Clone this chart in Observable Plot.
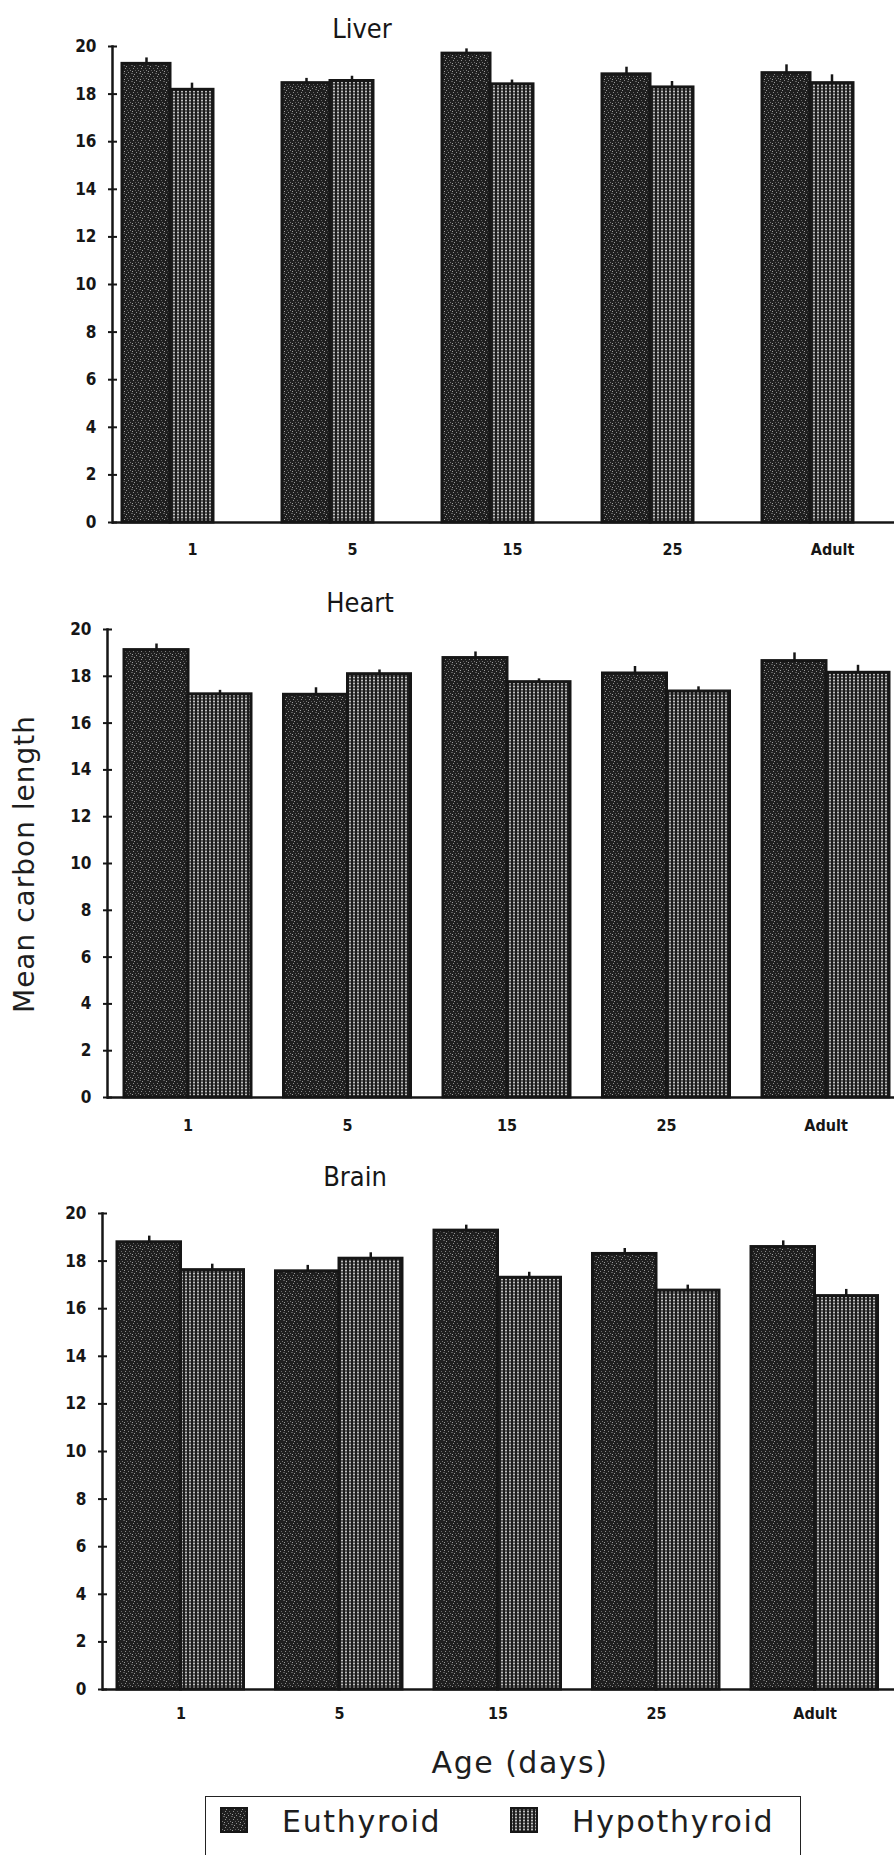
<!DOCTYPE html>
<html>
<head>
<meta charset="utf-8">
<script src="https://cdn.jsdelivr.net/npm/d3@7"></script>
<script src="https://cdn.jsdelivr.net/npm/@observablehq/plot@0.6"></script>
<style>
  html, body { margin: 0; padding: 0; background: #fff; }
  #root { position: relative; width: 894px; height: 1855px; overflow: hidden; background: #fff; color: #161616; font-family: "DejaVu Sans", sans-serif; }
  #root > svg.plotsvg { position: absolute; left: 0; }
  .title { position: absolute; transform: translateX(-50%); font-family: "DejaVu Sans Condensed", "DejaVu Sans", sans-serif; font-stretch: condensed; font-size: 27px; line-height: 27px; white-space: nowrap; color: #161616; }
  .ylab { position: absolute; left: 25px; top: 864px; transform: translate(-50%, -50%) rotate(-90deg); font-size: 28px; line-height: 28px; letter-spacing: 1px; white-space: nowrap; color: #1e1e1e; }
  .xlab { position: absolute; left: 520px; top: 1748px; transform: translateX(-50%); font-size: 30px; line-height: 30px; letter-spacing: 1.5px; white-space: nowrap; color: #1e1e1e; }
  .legend { position: absolute; left: 205px; top: 1796px; width: 596px; height: 90px; border: 1.5px solid #222; border-bottom: none; box-sizing: border-box; }
  .ltext { position: absolute; font-size: 30px; line-height: 30px; letter-spacing: 1.7px; white-space: nowrap; color: #1e1e1e; }
  .swatch { position: absolute; }
</style>
</head>
<body>
<svg width="0" height="0" style="position:absolute">
  <defs>
    <pattern id="euPat" width="8" height="8" patternUnits="userSpaceOnUse">
      <rect width="8" height="8" fill="#1f1f1f"/>
      <rect x="0" y="0" width="1" height="1" fill="#8a8a8a"/>
      <rect x="3" y="1" width="2" height="1" fill="#5c5c5c"/>
      <rect x="6" y="2" width="1" height="1" fill="#9a9a9a"/>
      <rect x="1" y="4" width="1" height="1" fill="#666666"/>
      <rect x="5" y="4" width="1" height="1" fill="#8e8e8e"/>
      <rect x="2" y="6" width="1" height="1" fill="#777777"/>
      <rect x="7" y="6" width="1" height="1" fill="#5a5a5a"/>
      <rect x="4" y="7" width="1" height="1" fill="#a0a0a0"/>
    </pattern>
    <pattern id="hyPat" width="4" height="3" patternUnits="userSpaceOnUse">
      <rect width="4" height="3" fill="#1c1c1c"/>
      <rect x="1.2" y="0.6" width="1.6" height="1.8" fill="#e6e6e6"/>
    </pattern>
  </defs>
</svg>
<div id="root"></div>
<script>
// ---- data ----
const ages = ["1", "5", "15", "25", "Adult"];
const series = ["Euthyroid", "Hypothyroid"];
const yTicks = [0, 2, 4, 6, 8, 10, 12, 14, 16, 18, 20];

const liverEu    = [19.27, 18.46, 19.70, 18.83, 18.88];
const liverHy    = [18.18, 18.55, 18.41, 18.28, 18.46];
const liverEuErr = [0.25, 0.20, 0.20, 0.30, 0.35];
const liverHyErr = [0.28, 0.20, 0.18, 0.25, 0.35];

const heartEu    = [19.12, 17.21, 18.78, 18.12, 18.65];
const heartHy    = [17.23, 18.09, 17.75, 17.35, 18.15];
const heartEuErr = [0.26, 0.30, 0.26, 0.30, 0.35];
const heartHyErr = [0.17, 0.18, 0.14, 0.20, 0.32];

const brainEu    = [18.79, 17.57, 19.28, 18.30, 18.59];
const brainHy    = [17.62, 18.10, 17.30, 16.76, 16.53];
const brainEuErr = [0.26, 0.25, 0.23, 0.23, 0.26];
const brainHyErr = [0.25, 0.25, 0.23, 0.23, 0.28];

// ---- layout ----
const root = document.getElementById("root");
const INK = "#161616";
const tickFont = "'DejaVu Sans Condensed', 'DejaVu Sans', sans-serif";

function panel(cfg, eu, hy, euErr, hyErr) {
  const rows = ages.map((a, i) => ({age: a, eu: eu[i], hy: hy[i], euErr: euErr[i], hyErr: hyErr[i]}));
  const svg = Plot.plot({
    width: 894,
    height: cfg.height,
    marginLeft: cfg.left,
    marginRight: 0,
    marginTop: 46,
    marginBottom: cfg.bottom,
    style: {background: "transparent", overflow: "visible", color: INK, fontFamily: tickFont},
    x: {type: "band", domain: ages, range: cfg.xRange, padding: 0, round: false},
    y: {domain: [0, 20]},
    marks: [
      Plot.barY(rows, {x: "age", y: "eu", fill: "url(#euPat)", stroke: INK, strokeWidth: 3,
        insetLeft: cfg.euL, insetRight: cfg.euR}),
      Plot.barY(rows, {x: "age", y: "hy", fill: "url(#hyPat)", stroke: INK, strokeWidth: 3,
        insetLeft: cfg.hyL, insetRight: cfg.hyR}),
      Plot.ruleX(rows, {x: "age", y1: "eu", y2: d => d.eu + d.euErr, dx: cfg.euDx, stroke: INK, strokeWidth: 2.5}),
      Plot.ruleX(rows, {x: "age", y1: "hy", y2: d => d.hy + d.hyErr, dx: cfg.hyDx, stroke: INK, strokeWidth: 2.5}),
      Plot.ruleY([0], {stroke: INK, strokeWidth: 2.5}),
      Plot.frame({anchor: "left", stroke: INK, strokeWidth: 2.5}),
      Plot.axisY(yTicks, {tickSize: 9, dx: 5, tickPadding: 12, label: null, fontSize: 17, fontWeight: "bold", strokeWidth: 2}),
      Plot.axisX({tickSize: 0, tickPadding: cfg.xPad, label: null, fontSize: 16, fontWeight: "bold"})
    ]
  });
  svg.classList.add("plotsvg");
  svg.style.top = cfg.top + "px";
  root.appendChild(svg);

  const t = document.createElement("div");
  t.className = "title";
  t.textContent = cfg.title;
  t.style.left = cfg.titleX + "px";
  t.style.top = cfg.titleY + "px";
  root.appendChild(t);
}

panel({title: "Liver", titleX: 362, titleY: 15, top: 0, height: 575, bottom: 53, left: 112,
       xRange: [112, 912], euL: 10, euR: 102, hyL: 58, hyR: 59, euDx: -46, hyDx: -0.5, xPad: 21},
      liverEu, liverHy, liverEuErr, liverHyErr);

panel({title: "Heart", titleX: 360, titleY: 589, top: 583, height: 564, bottom: 50, left: 107,
       xRange: [107.75, 905.25], euL: 16.25, euR: 79.25, hyL: 80.25, hyR: 16.25, euDx: -31.5, hyDx: 32, xPad: 22},
      heartEu, heartHy, heartEuErr, heartHyErr);

panel({title: "Brain", titleX: 355, titleY: 1163, top: 1167, height: 572, bottom: 50, left: 102,
       xRange: [101.25, 893.75], euL: 15.75, euR: 79.25, hyL: 79.25, hyR: 16.25, euDx: -31.75, hyDx: 31.25, xPad: 18},
      brainEu, brainHy, brainEuErr, brainHyErr);

// y label
const yl = document.createElement("div");
yl.className = "ylab";
yl.textContent = "Mean carbon length";
root.appendChild(yl);

// x label
const xl = document.createElement("div");
xl.className = "xlab";
xl.textContent = "Age (days)";
root.appendChild(xl);

// legend
const lg = document.createElement("div");
lg.className = "legend";
root.appendChild(lg);
const legendItems = [
  {name: series[0], pat: "euPat", sx: 220, tx: 282},
  {name: series[1], pat: "hyPat", sx: 510, tx: 572}
];
for (const it of legendItems) {
  const s = document.createElementNS("http://www.w3.org/2000/svg", "svg");
  s.setAttribute("width", 28); s.setAttribute("height", 26);
  s.setAttribute("class", "swatch");
  s.style.left = it.sx + "px"; s.style.top = "1807px";
  s.innerHTML = `<rect x="1" y="1" width="26" height="24" fill="url(#${it.pat})" stroke="${INK}" stroke-width="2"/>`;
  root.appendChild(s);
  const tx = document.createElement("div");
  tx.className = "ltext";
  tx.textContent = it.name;
  tx.style.left = it.tx + "px";
  tx.style.top = "1807px";
  root.appendChild(tx);
}
</script>
</body>
</html>
